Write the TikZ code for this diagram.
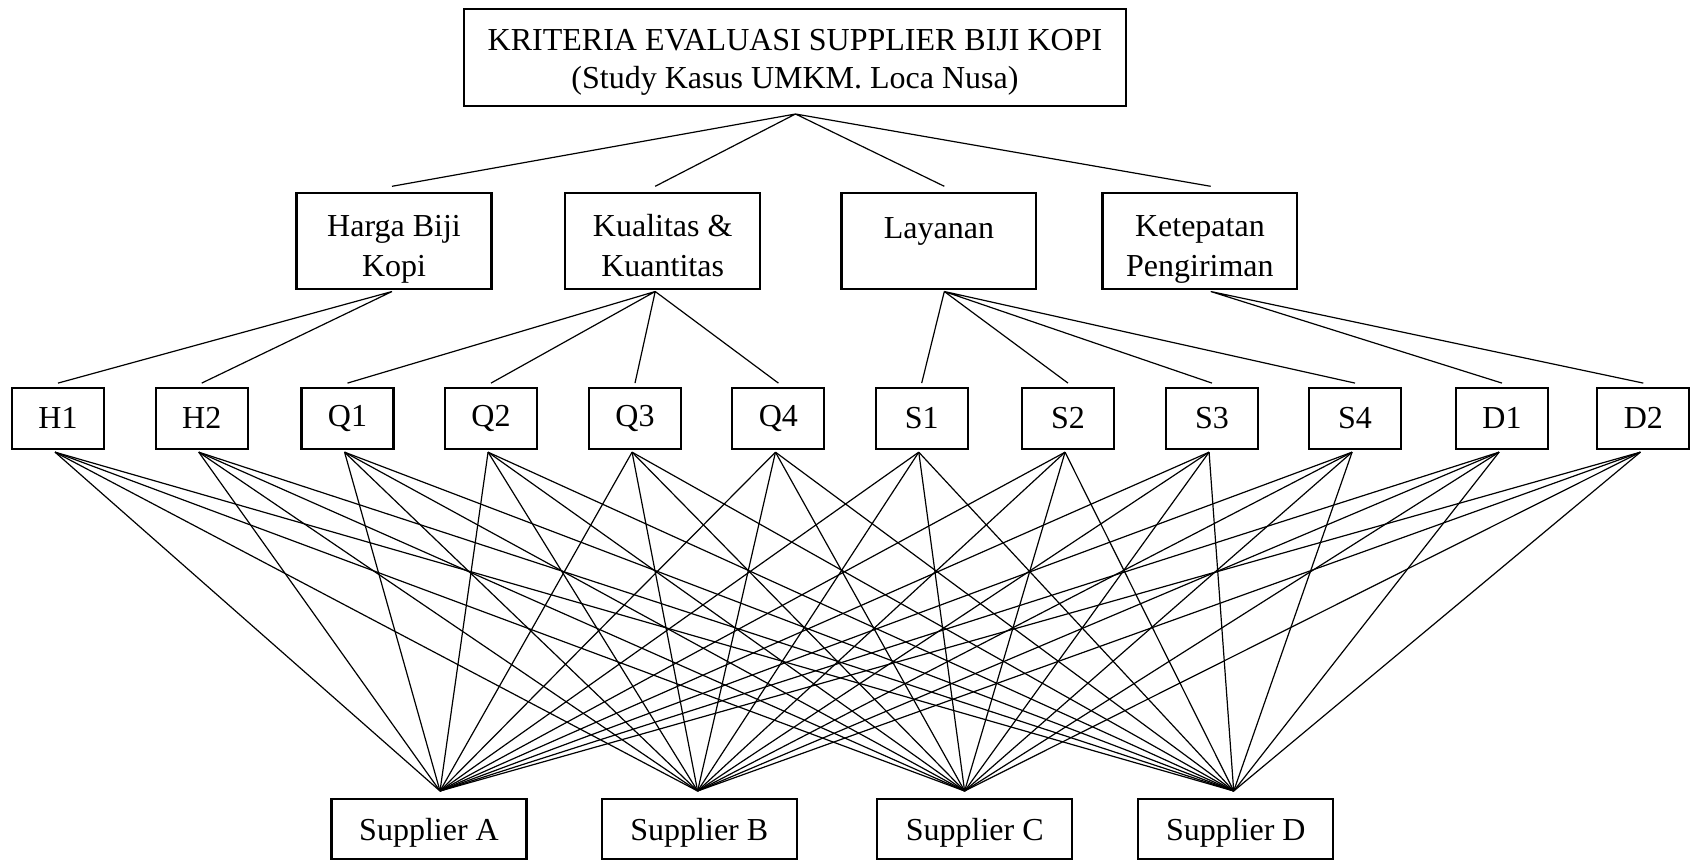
\documentclass[tikz,border=0pt]{standalone}
\usepackage{fontspec}
\setmainfont{Liberation Serif}
\usetikzlibrary{positioning}

\begin{document}
\begin{tikzpicture}[x=0.375pt,y=-0.375pt,font=\fontsize{12}{14.3}\selectfont,
    box/.style={draw,line width=0.8pt,inner sep=0pt,align=center},
    crit/.style={box,minimum width=73.1pt,minimum height=36.2pt,
      text height=31.5pt,text depth=4.7pt,font=\fontsize{12}{15}\selectfont},
    leaf/.style={box,minimum width=34.5pt,minimum height=22.8pt},
    alt/.style={box,minimum width=73.1pt,minimum height=22.5pt,
      text height=15.4pt,text depth=7.1pt},
    link/.style={draw,line width=0.45pt}]

   \useasboundingbox (0,0) rectangle (1698,864);

   % goal
   \node[box,minimum width=248.5pt,minimum height=36.4pt,
     text height=29.9pt,text depth=6.5pt] (goal) at (795,57.2)
     {KRITERIA EVALUASI SUPPLIER BIJI KOPI\\(Study Kasus UMKM. Loca Nusa)};

   % criteria
   \node[crit] (c_1) at (394,241)   {Harga Biji\\Kopi};
   \node[crit] (c_2) at (662.7,241) {Kualitas \&\\Kuantitas};
   \node[crit,text height=17.3pt,text depth=18.9pt] (c_3) at (938.9,241) {Layanan};
   \node[crit] (c_4) at (1199.9,241) {Ketepatan\\Pengiriman};

   % sub criteria
   \node[leaf] (h_1) at (58,418.3)     {H1};
   \node[leaf] (h_2) at (201.7,418.3)  {H2};
   \node[leaf] (q_1) at (347.5,418.3)  {Q1};
   \node[leaf] (q_2) at (491,418.3)    {Q2};
   \node[leaf] (q_3) at (635,418.3)    {Q3};
   \node[leaf] (q_4) at (778.4,418.3)  {Q4};
   \node[leaf] (s_1) at (921.7,418.3)  {S1};
   \node[leaf] (s_2) at (1068,418.3)   {S2};
   \node[leaf] (s_3) at (1212,418.3)   {S3};
   \node[leaf] (s_4) at (1355,418.3)   {S4};
   \node[leaf] (d_1) at (1502,418.3)   {D1};
   \node[leaf] (d_2) at (1643.3,418.3) {D2};

   % alternatives
   \node[alt] (sup_A) at (429,829)    {Supplier A};
   \node[alt] (sup_B) at (699.3,829)  {Supplier B};
   \node[alt] (sup_C) at (974.7,829)  {Supplier C};
   \node[alt] (sup_D) at (1235.8,829) {Supplier D};

   % meeting points of the lines
   \coordinate (g_0) at (795.5,114);
   \coordinate (t_1) at (392,186.3);   \coordinate (b_1) at (392,291.5);
   \coordinate (t_2) at (655.2,186.3); \coordinate (b_2) at (655.2,291.5);
   \coordinate (t_3) at (944.3,186.3); \coordinate (b_3) at (944.3,291.5);
   \coordinate (t_4) at (1210.7,186.3);\coordinate (b_4) at (1210.7,291.5);
   \coordinate (p_A) at (440,791);
   \coordinate (p_B) at (697.6,791);
   \coordinate (p_C) at (964.6,791);
   \coordinate (p_D) at (1233.7,791);

   \path[link]
    (g_0) -- (t_1)  (g_0) -- (t_2)  (g_0) -- (t_3)  (g_0) -- (t_4)
    (b_1) -- ([yshift=1.4pt]h_1.north)  (b_1) -- ([yshift=1.4pt]h_2.north)
    (b_2) -- ([yshift=1.4pt]q_1.north)  (b_2) -- ([yshift=1.4pt]q_2.north)
    (b_2) -- ([yshift=1.4pt]q_3.north)  (b_2) -- ([yshift=1.4pt]q_4.north)
    (b_3) -- ([yshift=1.4pt]s_1.north)  (b_3) -- ([yshift=1.4pt]s_2.north)
    (b_3) -- ([yshift=1.4pt]s_3.north)  (b_3) -- ([yshift=1.4pt]s_4.north)
    (b_4) -- ([yshift=1.4pt]d_1.north)  (b_4) -- ([yshift=1.4pt]d_2.north);

   \foreach \k in {h_1,h_2,q_1,q_2,q_3,q_4,s_1,s_2,s_3,s_4,d_1,d_2}
     \foreach \a in {A,B,C,D}
       \path[link] ([xshift=-1.1pt,yshift=-0.9pt]\k.south) -- (p_\a);

\end{tikzpicture}
\end{document}
